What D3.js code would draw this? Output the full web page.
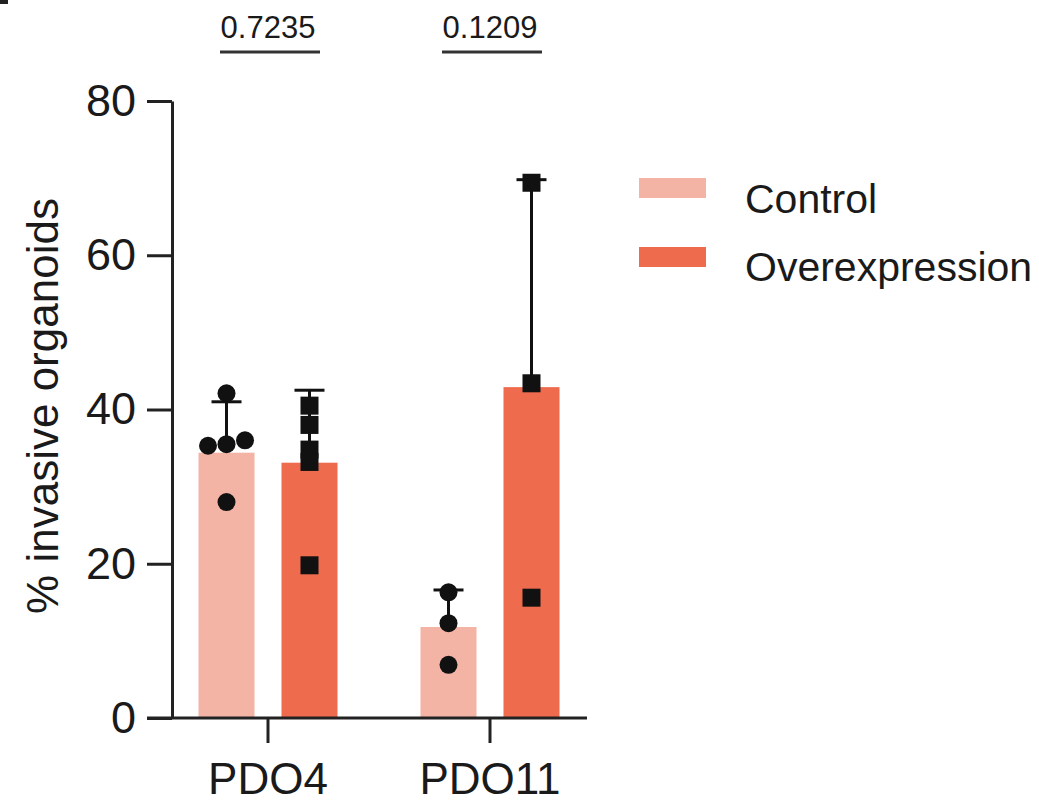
<!DOCTYPE html>
<html>
<head>
<meta charset="utf-8">
<script src="https://cdn.jsdelivr.net/npm/d3@7"></script>
<style>
  body { margin: 0; background: #fff; }
  text { font-family: Arial, "Liberation Sans", sans-serif; fill: #1a1a1a; }
</style>
</head>
<body>
<div id="chart"></div>
<script>
var groups = ['PDO4', 'PDO11'];
var series = ['Control', 'Overexpression'];
var barMeans = {
  Control: [34.4, 11.8],
  Overexpression: [33.1, 42.9]
};
var errTop = {
  Control: [41.0, 16.6],
  Overexpression: [42.5, 69.8]
};
var points = {
  Control: [[42.1, 35.3, 35.5, 36.0, 28.0], [16.3, 12.3, 6.9]],
  Overexpression: [[40.5, 38.0, 34.8, 33.2, 19.8], [69.4, 43.4, 15.6]]
};
var pValues = ['0.7235', '0.1209'];
var yTicks = [0, 20, 40, 60, 80];
var colors = { Control: '#f3b4a5', Overexpression: '#ee6b4e' };

var width = 1039,
    height = 806;

var svg = d3.select('#chart').append('svg').attr('width', width).attr('height', height);

// bit of the panel letter that pokes in at the top-left corner
svg.append('rect').attr('x', 0).attr('y', 0).attr('width', 8).attr('height', 4).attr('fill', '#222');

var yScale = d3.scaleLinear().domain([0, 80]).range([718, 101]);

var xScale = d3.scaleBand().domain(groups).range([157, 601]);

var inner = d3.scaleBand().domain(series)
  .range([0, xScale.bandwidth()])
  .paddingInner(0.325).paddingOuter(0.5);

// bars
series.forEach(function(s) {
  svg.append('g').selectAll('rect')
    .data(groups)
    .enter().append('rect')
    .attr('x', function(d) { return xScale(d) + inner(s); })
    .attr('y', function(d, i) { return yScale(barMeans[s][i]); })
    .attr('width', inner.bandwidth())
    .attr('height', function(d, i) { return yScale(0) - yScale(barMeans[s][i]); })
    .attr('fill', colors[s]);
});

// error bars (upper only)
series.forEach(function(s) {
  var g = svg.append('g');
  groups.forEach(function(grp, i) {
    var cx = xScale(grp) + inner(s) + inner.bandwidth() / 2;
    g.append('line')
      .attr('x1', cx).attr('x2', cx)
      .attr('y1', yScale(barMeans[s][i])).attr('y2', yScale(errTop[s][i]))
      .attr('stroke', '#111').attr('stroke-width', 3);
    g.append('line')
      .attr('x1', cx - 15).attr('x2', cx + 15)
      .attr('y1', yScale(errTop[s][i])).attr('y2', yScale(errTop[s][i]))
      .attr('stroke', '#111').attr('stroke-width', 3);
  });
});

// spread points that sit at nearly the same height
function spread(vals) {
  var sorted = vals.map(function(v, i) { return { v: v, i: i }; })
    .sort(function(a, b) { return a.v - b.v; });
  var off = vals.map(function() { return 0; });
  var cluster = [];
  function flush() {
    cluster.forEach(function(c, k) { off[c.i] = (k - (cluster.length - 1) / 2) * 18.5; });
    cluster = [];
  }
  sorted.forEach(function(p) {
    if (cluster.length && p.v - cluster[cluster.length - 1].v > 1) flush();
    cluster.push(p);
  });
  flush();
  return off;
}

series.forEach(function(s) {
  var g = svg.append('g');
  groups.forEach(function(grp, i) {
    var cx = xScale(grp) + inner(s) + inner.bandwidth() / 2;
    var vals = points[s][i];
    var off = spread(vals);
    vals.forEach(function(v, k) {
      if (s === 'Control') {
        g.append('circle')
          .attr('cx', cx + off[k]).attr('cy', yScale(v)).attr('r', 9)
          .attr('fill', '#111');
      } else {
        g.append('rect')
          .attr('x', cx + off[k] - 9).attr('y', yScale(v) - 9)
          .attr('width', 18).attr('height', 18)
          .attr('fill', '#111');
      }
    });
  });
});

// axes
var yAxis = d3.axisLeft(yScale).tickValues(yTicks).tickSize(25).tickSizeOuter(0).tickPadding(11);
var yAxisG = svg.append('g').attr('transform', 'translate(172,0)').call(yAxis);
yAxisG.selectAll('text').attr('font-size', 45).attr('font-family', null).attr('fill', null);
yAxisG.selectAll('path, line').attr('stroke', '#222').attr('stroke-width', 3);

svg.append('line')
  .attr('x1', 147).attr('x2', 587)
  .attr('y1', yScale(0)).attr('y2', yScale(0))
  .attr('stroke', '#222').attr('stroke-width', 3);

var xAxis = d3.axisBottom(xScale).tickSize(25).tickPadding(20);
var xAxisG = svg.append('g').attr('transform', 'translate(0,' + yScale(0) + ')').call(xAxis);
xAxisG.select('.domain').remove();
xAxisG.selectAll('text').attr('font-size', 44).attr('font-family', null).attr('fill', null);
xAxisG.selectAll('line').attr('stroke', '#222').attr('stroke-width', 3);

// y label
svg.append('text')
  .attr('transform', 'translate(58,406) rotate(-90)')
  .attr('text-anchor', 'middle')
  .attr('font-size', 44)
  .text('% invasive organoids');

// p-values
groups.forEach(function(grp, i) {
  var cx = xScale(grp) + xScale.bandwidth() / 2;
  svg.append('text')
    .attr('x', cx).attr('y', 38)
    .attr('text-anchor', 'middle')
    .attr('font-size', 31)
    .text(pValues[i]);
  svg.append('line')
    .attr('x1', cx - 48).attr('x2', cx + 52)
    .attr('y1', 52).attr('y2', 52)
    .attr('stroke', '#333').attr('stroke-width', 3);
});

// legend
var legend = svg.append('g').attr('transform', 'translate(639,178)');
series.forEach(function(s, i) {
  legend.append('rect')
    .attr('x', 0).attr('y', i * 69)
    .attr('width', 67).attr('height', 20)
    .attr('fill', colors[s]);
  legend.append('text')
    .attr('x', 106).attr('y', i * 68 + 35)
    .attr('font-size', 41)
    .text(s);
});
</script>
</body>
</html>
